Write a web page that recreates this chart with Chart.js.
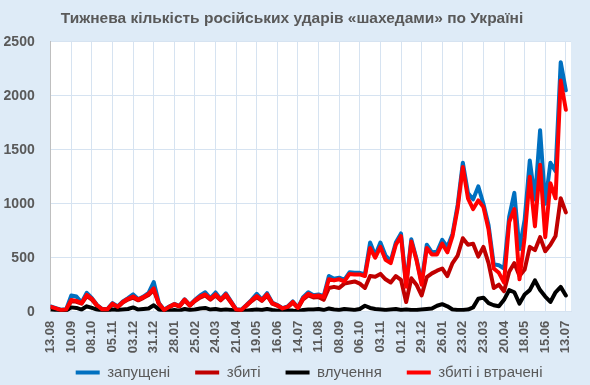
<!DOCTYPE html>
<html><head><meta charset="utf-8">
<script src="https://cdn.jsdelivr.net/npm/chart.js@4.4.1/dist/chart.umd.min.js"></script>
<style>html,body{margin:0;padding:0;background:#DEEBF7;}</style>
</head><body>
<canvas id="c" width="590" height="385"></canvas>
<script>
// x-axis tick labels (every 4 weeks, 13.08.2023 … 13.07.2025)
const tickLabels = ['13.08','10.09','08.10','05.11','03.12','31.12','28.01','25.02','24.03','21.04','19.05','16.06','14.07','11.08','08.09','06.10','03.11','01.12','29.12','26.01','23.02','23.03','20.04','18.05','15.06','13.07'];

// weekly values, one per week starting 13.08
const launched = [
 50,32,18,22,150,140,85,175,125,62,
 25,25,80,48,95,125,160,115,140,175,
 275,80,18,48,72,55,115,62,110,150,
 180,125,178,115,170,95,22,18,62,110,
 165,112,172,85,62,32,48,95,38,135,
 180,152,160,145,330,305,315,295,365,360,
 360,345,640,520,640,520,470,640,725,250,
 670,490,270,620,550,555,665,600,720,990,
 1380,1100,1040,1160,1000,800,440,430,400,880,
 1100,580,850,1400,1040,1680,1000,1380,1300,2310,
 2050];
const shotDown = [
 42,28,14,18,100,92,75,145,112,55,
 20,20,70,42,85,112,130,105,128,155,
 200,70,14,42,65,48,105,55,98,130,
 150,112,150,105,150,84,18,14,55,98,
 135,100,150,75,55,28,42,84,32,115,
 150,132,135,110,220,230,220,260,270,280,
 260,220,330,324,350,300,270,330,295,90,
 310,250,150,320,355,380,400,330,450,520,
 680,620,630,510,600,450,220,250,190,370,
 450,330,390,600,570,690,560,620,700,1050,
 920];
const hits = [
 20,15,10,10,40,35,20,50,35,20,
 10,10,20,15,20,25,40,20,25,30,
 60,20,5,10,15,10,25,15,20,30,
 35,20,25,15,20,15,5,5,10,15,
 20,15,25,15,10,5,10,10,5,15,
 20,20,25,15,30,20,15,25,20,15,
 25,55,35,25,20,15,20,25,15,20,
 15,15,20,25,30,55,70,50,20,15,
 15,20,40,120,130,80,60,50,110,200,
 180,75,160,200,290,200,140,90,180,230,
 150];
const shotAndLost = [
 45,30,15,20,108,100,80,155,120,60,
 22,22,75,45,90,120,140,112,135,165,
 215,75,15,45,70,52,112,60,105,140,
 160,120,160,112,160,90,20,15,60,105,
 145,108,160,80,60,30,45,90,35,125,
 165,145,150,135,300,290,300,280,350,345,
 345,330,590,500,600,480,450,620,700,230,
 650,480,250,590,530,530,630,550,700,960,
 1340,1050,950,1030,970,760,400,360,270,830,
 950,300,690,1250,790,1360,690,1190,1050,2140,
 1870];

const seriesNames = ['запущені','збиті','влучення','збиті і втрачені'];
const seriesColors = ['#0070C0','#C00000','#000000','#FF0000'];
const DAYS_PER_WEEK = 7, DAYS_PER_TICK = 28;

const toPoints = arr => arr.map((v, i) => ({x: i * DAYS_PER_WEEK, y: v}));
const allSeries = [launched, shotDown, hits, shotAndLost];

const bgPlugin = {
  id: 'bg',
  beforeDraw(chart) {
    const {ctx, chartArea: a} = chart;
    ctx.save();
    ctx.fillStyle = '#DEEBF7';
    ctx.fillRect(0, 0, chart.width, chart.height);
    ctx.fillStyle = '#FFFFFF';
    ctx.fillRect(a.left, a.top, a.right - a.left, a.bottom - a.top);
    ctx.restore();
  }
};

Chart.defaults.font.family = "'Liberation Sans', Arial, sans-serif";

new Chart(document.getElementById('c'), {
  type: 'line',
  data: {
    datasets: allSeries.map((arr, k) => ({
      label: seriesNames[k],
      data: toPoints(arr),
      borderColor: seriesColors[k],
      backgroundColor: seriesColors[k],
      borderWidth: 4,
      pointRadius: 0,
      tension: 0,
      borderJoinStyle: 'round',
      borderCapStyle: 'round',
      order: 4 - k
    }))
  },
  options: {
    responsive: false,
    animation: false,
    events: [],
    layout: {padding: {left: 13, right: 19, top: 0, bottom: 0}},
    plugins: {
      title: {
        display: true,
        text: 'Тижнева кількість російських ударів «шахедами» по Україні',
        color: '#595959',
        font: {family: "'Liberation Sans', Arial, sans-serif", size: 15.5, weight: 'bold'},
        padding: {top: 9, bottom: 14.1}
      },
      legend: {
        position: 'bottom',
        fullSize: false,
        align: 'start',
        maxHeight: 45,
        labels: {
          usePointStyle: true,
          pointStyle: 'line',
          pointStyleWidth: 24,
          padding: 25,
          color: '#595959',
          font: {size: 15},
          sort: (a, b) => a.datasetIndex - b.datasetIndex
        }
      },
      tooltip: {enabled: false}
    },
    scales: {
      x: {
        type: 'linear',
        min: 0,
        max: 707,
        afterBuildTicks: s => { s.ticks = tickLabels.map((_, i) => ({value: i * DAYS_PER_TICK})); },
        afterFit: s => {
          s.height = 28.3; s.paddingLeft = 0; s.paddingRight = 0;
          s._computeLabelArea = () => undefined;
        },
        ticks: {
          autoSkip: false,
          minRotation: 90,
          maxRotation: 90,
          padding: 9,
          color: '#595959',
          font: {size: 13, weight: 'bold'},
          callback: v => tickLabels[Math.round(v / DAYS_PER_TICK)] ?? ''
        },
        grid: {color: '#D6E3F1', drawTicks: false},
        border: {color: '#D6E3F1'}
      },
      y: {
        min: 0,
        max: 2500,
        afterFit: s => { s.width = 37.7; s._computeLabelArea = () => undefined; },
        ticks: {stepSize: 500, padding: 16, color: '#595959', font: {size: 14, weight: 'bold'}, callback: v => String(v)},
        grid: {color: '#D6E3F1', drawTicks: false},
        border: {color: '#BFBFBF'}
      }
    }
  },
  plugins: [bgPlugin]
});
</script>
</body></html>
